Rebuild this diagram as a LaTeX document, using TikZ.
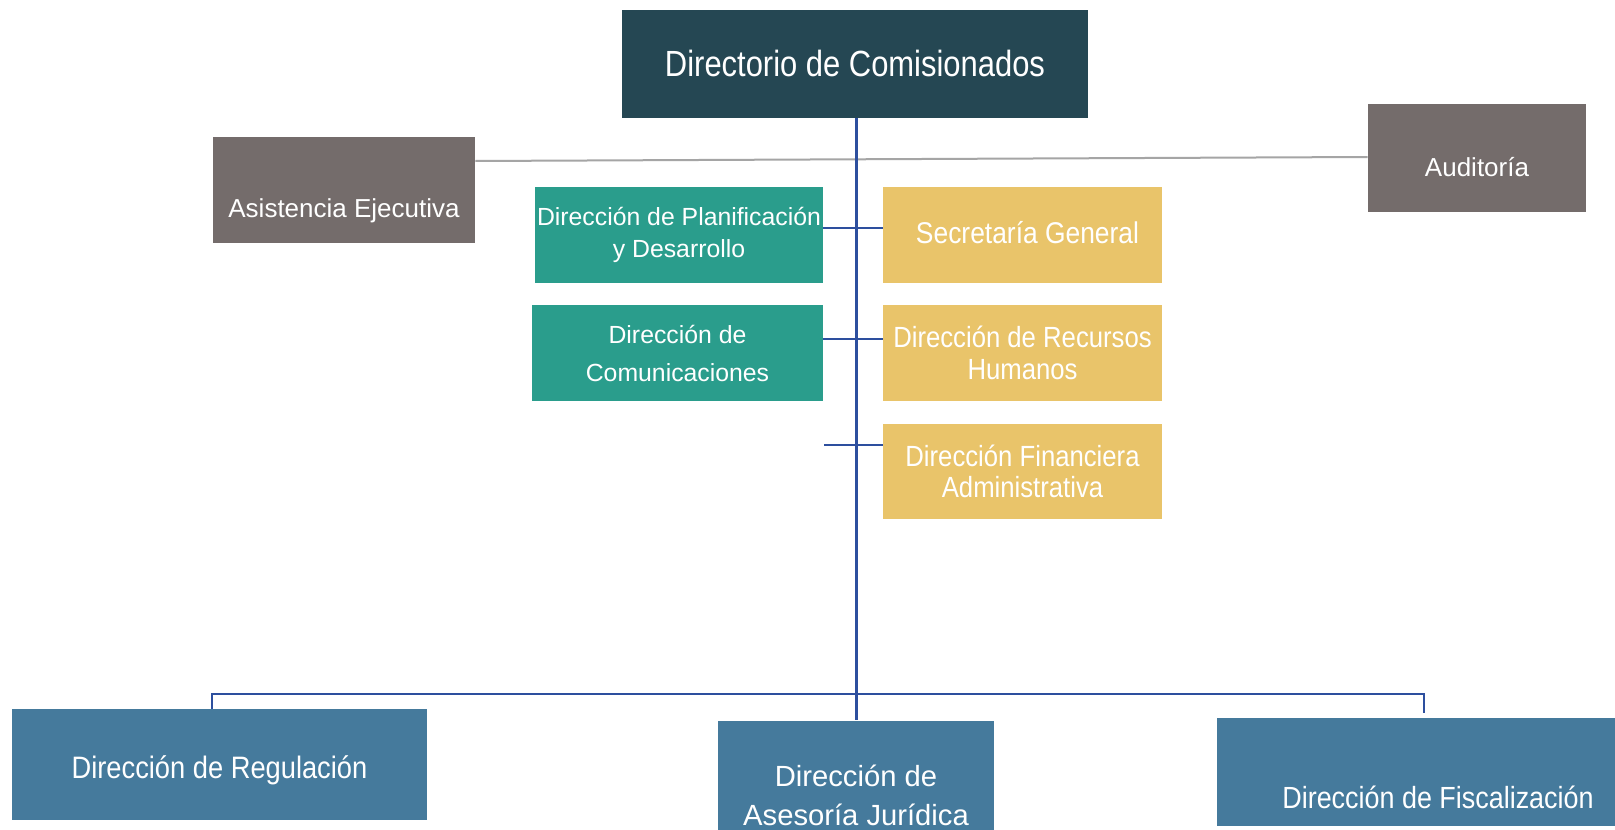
\documentclass[tikz,border=0pt]{standalone}
\usepackage{fontspec}
\setmainfont{Liberation Sans}
\newfontfamily\fTitle[FakeStretch=0.85]{Liberation Sans}
\newfontfamily\fNarrow[FakeStretch=0.88]{Liberation Sans}
\definecolor{titlecol}{RGB}{37,71,83}
\definecolor{graybox}{RGB}{116,108,107}
\definecolor{tealbox}{RGB}{42,157,140}
\definecolor{yellowbox}{RGB}{233,196,106}
\definecolor{bluebox}{RGB}{69,122,156}
\definecolor{blueline}{RGB}{45,79,158}
\definecolor{grayline}{RGB}{165,165,165}
\tikzset{
  box/.style={rectangle, inner sep=0pt, text=white, anchor=center},
  titlebox/.style={box, fill=titlecol, font=\fTitle\fontsize{18.2}{22}\selectfont},
  graybx/.style={box, fill=graybox, font=\fontsize{13}{16}\selectfont},
  tealbx/.style={box, fill=tealbox, align=center},
  yellowbx/.style={box, fill=yellowbox, align=center, font=\fNarrow\fontsize{14.6}{15.8}\selectfont},
  bluebx/.style={box, fill=bluebox},
  mainline/.style={draw=blueline, line width=1.5pt},
  subline/.style={draw=blueline, line width=1pt},
  sideline/.style={draw=grayline, line width=1pt}
}
\begin{document}
\begin{tikzpicture}[x=0.5pt,y=-0.5pt]
\useasboundingbox (0,0) rectangle (1615,829);
\clip (0,0) rectangle (1615,829);
\fill[white] (0,0) rectangle (1615,829);

% top
\node[titlebox, minimum width=233pt, minimum height=54pt, text height=12pt, text depth=0pt] (dir) at (855,64) {Directorio de Comisionados};

% staff
\node[graybx, minimum width=131pt, minimum height=53pt, text height=27pt, text depth=0pt] (asis) at (344,190) {Asistencia Ejecutiva};
\node[graybx, minimum width=109pt, minimum height=54pt, text height=18.7pt, text depth=0pt] (aud) at (1477,158) {Auditoría};

% teal
\node[tealbx, minimum width=144pt, minimum height=48pt, font=\fontsize{12.4}{15.8}\selectfont] (plan) at (679,235) {Dirección de Planificación\\y Desarrollo};
\node[tealbx, minimum width=145.5pt, minimum height=48pt, font=\fontsize{12.4}{19}\selectfont] (com) at (677.5,353) {Dirección de\\Comunicaciones};

% yellow
\node[box, fill=yellowbox, font=\fNarrow\fontsize{15}{16}\selectfont, minimum width=139.5pt, minimum height=48pt, text height=8.3pt, text depth=0pt] (sec) at (1022.5,235) {\hspace*{5pt}Secretaría General};
\node[yellowbx, minimum width=139.5pt, minimum height=48pt] (rh) at (1022.5,353) {Dirección de Recursos\\Humanos};
\node[yellowbx, minimum width=139.5pt, minimum height=47.5pt] (fin) at (1022.5,471.5) {Dirección Financiera\\Administrativa};

% bottom
\node[bluebx, font=\fNarrow\fontsize{15.5}{18}\selectfont, minimum width=207.5pt, minimum height=55.5pt, text height=14pt, text depth=0pt] (reg) at (219.5,764.5) {Dirección de Regulación};
\node[bluebx, align=center, font=\fontsize{14.6}{19.5}\selectfont, minimum width=138pt, minimum height=74.5pt] (ase) at (856,795) {Dirección de\\Asesoría Jurídica};
\node[bluebx, font=\fNarrow\fontsize{15.3}{18}\selectfont, minimum width=221pt, minimum height=54pt, text height=36pt, text depth=0pt] (fis) at (1438,772) {Dirección de Fiscalización};

% connectors
\path[sideline] ([yshift=14.5pt]asis.east) -- ([yshift=0.5pt]aud.west);
\path[mainline] (dir.south -| ase.north) -- (ase.north);
\path[subline] ([yshift=3.5pt]plan.east) -- ([yshift=3.5pt]sec.west);
\path[subline] ([yshift=7pt]com.east) -- ([yshift=7pt]rh.west);
\coordinate (stub) at (824,445);
\path[subline] (stub) -- (stub -| fin.west);
\coordinate (bl) at (212,694);
\coordinate (br) at (1424,694);
\path[subline] (bl |- reg.north) -- (bl) -- (br) -- ([yshift=2.5pt]br |- fis.north);
\end{tikzpicture}
\end{document}
